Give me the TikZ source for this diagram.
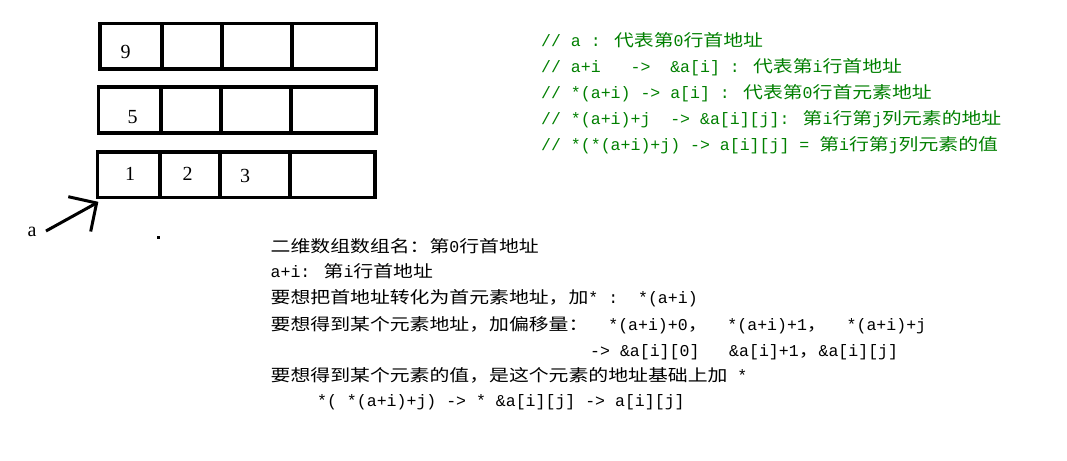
\documentclass[tikz,border=0pt]{standalone}
\usepackage{fontspec}
\setmainfont{Liberation Mono}
\newfontfamily\cjkf[FakeStretch=1.2]{Noto Sans CJK SC}
\newfontfamily\serf{Liberation Serif}
\newcommand\C[1]{{\cjkf #1}}
\newcommand\hs[1]{\hspace*{#1\dimexpr 9.93pt\relax}}
\definecolor{codegreen}{RGB}{0,128,0}
\tikzset{
  cellline/.style={line width=3.2pt, line join=miter},
  txt/.style={anchor=base west, inner sep=0pt, font=\fontsize{16.55pt}{20pt}\selectfont},
  cmt/.style={txt, text=codegreen},
  num/.style={inner sep=0pt, font=\serf\fontsize{20pt}{24pt}\selectfont},
  arr/.style={line width=3pt}
}
\begin{document}
\begin{tikzpicture}[x=1pt, y=-1pt]
\useasboundingbox[fill=white] (0,0) rectangle (1067,460);

% row 1
\draw[cellline] (100,23.3) rectangle (376.7,69);
\draw[cellline] (162,23.3) -- (162,69) (222,23.3) -- (222,69) (292,23.3) -- (292,69);
% row 2
\draw[cellline] (98.7,87) rectangle (376,133);
\draw[cellline] (161,87) -- (161,133) (221,87) -- (221,133) (291,87) -- (291,133);
% row 3
\draw[cellline] (97.7,152) rectangle (375,197.7);
\draw[cellline] (160,152) -- (160,197.7) (220,152) -- (220,197.7) (290,152) -- (290,197.7);

\node[num] (n9) at (125.7,51.7) {9};
\node[num] (n5) at (132.7,116.7) {5};
\node[num] (n1) at (130,174) {1};
\node[num] (n2) at (187.7,174) {2};
\node[num] (n3) at (245,175.7) {3};

% pointer a
\node[num] (alab) at (32,232) {a};
\coordinate (tip) at (96.6,203);
\coordinate (tail) at (46,231);
\coordinate (h1) at (68.3,196.7);
\coordinate (h2) at (90.7,231.5);
\draw[arr] (tail) -- (tip);
\draw[arr] (h1) -- (tip) -- (h2);

\fill (157,236) rectangle (160,239);

% green comments
\node[cmt] (c1) at (541,47) {// a : \C{代表第}0\C{行首地址}};
\node[cmt] (c2) at (541,72.5) {// a+i\hs{3}->\hs{2}\&a[i] : \C{代表第}i\C{行首地址}};
\node[cmt] (c3) at (541,98.5) {// *(a+i) -> a[i] : \C{代表第}0\C{行首元素地址}};
\node[cmt] (c4) at (541,124.5) {// *(a+i)+j\hs{2}-> \&a[i][j]: \C{第}i\C{行第}j\C{列元素的地址}};
\node[cmt] (c5) at (541,150) {// *(*(a+i)+j) -> a[i][j] = \C{第}i\C{行第}j\C{列元素的值}};

% explanation
\node[txt] (b1) at (270.5,252) {\C{二维数组数组名：第}0\C{行首地址}};
\node[txt] (b2) at (270.5,277.5) {a+i: \C{第}i\C{行首地址}};
\node[txt] (b3) at (270.5,303.5) {\C{要想把首地址转化为首元素地址，加}* :\hs{2}*(a+i)};
\node[txt] (b4) at (270.5,330) {\C{要想得到某个元素地址，加偏移量：}\hs{2}*(a+i)+0\C{，}\hs{2}*(a+i)+1\C{，}\hs{2}*(a+i)+j};
\node[txt] (b5) at (590,356) {-> \&a[i][0]\hs{3}\&a[i]+1\C{，}\&a[i][j]};
\node[txt] (b6) at (270.5,381) {\C{要想得到某个元素的值，是这个元素的地址基础上加} *};
\node[txt] (b7) at (317,406.5) {*( *(a+i)+j) -> * \&a[i][j] -> a[i][j]};
\end{tikzpicture}
\end{document}
